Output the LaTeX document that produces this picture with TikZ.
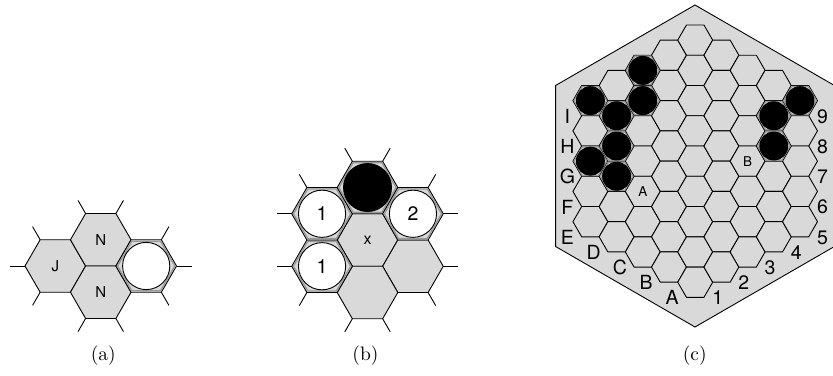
\documentclass[tikz,border=0pt]{standalone}
\usepackage{fontspec}
\newfontfamily\lblfont{TeX Gyre Heros}
\newfontfamily\capfont{lmroman10-regular}[Extension=.otf]
\newcommand{\rsHex}[4][]{%
  \draw[#1] (#2,#3) +(0:#4) -- +(60:#4) -- +(120:#4) -- +(180:#4) -- +(240:#4) -- +(300:#4) -- cycle;}
\begin{document}
\begin{tikzpicture}[x=1pt,y=-1pt,
  hexcell/.style={fill=black!15, draw=black, line width=0.9pt, line join=miter},
  stoneband/.style={draw=black!40, line width=1.3pt},
  stub/.style={draw=black, line width=0.9pt},
  whitestone/.style={fill=white, draw=black, line width=0.9pt},
  blackstone/.style={fill=black, draw=black, line width=0.9pt},
  board/.style={fill=black!15, draw=black, line width=0.9pt},
  celllbl/.style={font=\lblfont\fontsize{15}{17}\selectfont, inner sep=0pt},
  smalllbl/.style={font=\lblfont\fontsize{13.5}{15}\selectfont, inner sep=0pt},
  xlbl/.style={font=\lblfont\fontsize{16}{18}\selectfont, inner sep=0pt},
  biglbl/.style={font=\lblfont\fontsize{19.5}{22}\selectfont, inner sep=0pt},
  caplbl/.style={font=\capfont\fontsize{19.5}{23}\selectfont, inner sep=0pt}
]
\useasboundingbox (0,0) rectangle (833,375);

% ---------------- (a) ----------------
\rsHex[hexcell]{55.3}{266}{30.3}
\rsHex[hexcell]{100.75}{239.76}{30.3}
\rsHex[hexcell]{100.75}{292.24}{30.3}
\rsHex[hexcell]{146.2}{266}{30.3}
\rsHex[stoneband]{146.2}{266}{28.6}
\coordinate (aJ) at (55.3,266);
\coordinate (aNu) at (100.75,239.76);
\coordinate (aNl) at (100.75,292.24);
\coordinate (aS) at (146.2,266);
\foreach \a in {120,180,240}{\draw[stub] (aJ) +(\a:30.3) -- +(\a:45.45);}
\foreach \a in {240,300}{\draw[stub] (aNu) +(\a:30.3) -- +(\a:45.45);}
\foreach \a in {60,120}{\draw[stub] (aNl) +(\a:30.3) -- +(\a:45.45);}
\foreach \a in {0,60,300}{\draw[stub] (aS) +(\a:30.3) -- +(\a:45.45);}
\draw[whitestone] (aS) circle[radius=23.6];
\node[celllbl] (lJ) at (aJ) {J};
\node[celllbl] (lNu) at (aNu) {N};
\node[celllbl] (lNl) at (aNl) {N};
\node[caplbl] (capa) at (103.3,355.5) {(a)};

% ---------------- (b) ----------------
\coordinate (bX) at (367.5,240);
\rsHex[hexcell]{367.5}{240}{30.3}
\foreach \d in {30,90,...,330}{
  \path (bX) ++(\d:52.48) coordinate (bR\d);
}
\foreach \d in {30,90,...,330}{
  \draw[hexcell] (bR\d) +(0:30.3) -- +(60:30.3) -- +(120:30.3) -- +(180:30.3) -- +(240:30.3) -- +(300:30.3) -- cycle;
}
\foreach \d in {150,210,270,330}{
  \draw[stoneband] (bR\d) +(0:28.6) -- +(60:28.6) -- +(120:28.6) -- +(180:28.6) -- +(240:28.6) -- +(300:28.6) -- cycle;
}
\foreach \d in {30,90,...,330}{
  \pgfmathsetmacro\aa{\d-30}
  \pgfmathsetmacro\ab{\d+30}
  \draw[stub] (bR\d) +(\aa:30.3) -- +(\aa:45.45);
  \draw[stub] (bR\d) +(\ab:30.3) -- +(\ab:45.45);
}
\draw[blackstone] (bR270) circle[radius=24];
\draw[whitestone] (bR210) circle[radius=23.6];
\draw[whitestone] (bR330) circle[radius=23.6];
\draw[whitestone] (bR150) circle[radius=23.6];
\node[biglbl] (b1u) at (bR210) {1};
\node[biglbl] (b2) at (bR330) {2};
\node[biglbl] (b1l) at (bR150) {1};
\node[xlbl] (bx) at (bX) {x};
\node[caplbl] (capb) at (365.5,355.8) {(b)};

% ---------------- (c) ----------------
\coordinate (cC) at (695,166);
\draw[board] (cC) +(30:161) -- +(90:161) -- +(150:161) -- +(210:161) -- +(270:161) -- +(330:161) -- cycle;
\foreach \q in {-4,...,4}{
  \pgfmathtruncatemacro\rmin{max(-4,-4-\q)}
  \pgfmathtruncatemacro\rmax{min(4,4-\q)}
  \foreach \r in {\rmin,...,\rmax}{
    \pgfmathsetmacro\cx{695.2+26.2*\q}
    \pgfmathsetmacro\cy{161.15+30.26*(\r+0.5*\q)}
    \rsHex[hexcell]{\cx}{\cy}{17.47}
  }
}
\foreach \q/\r in {-2/-2,-4/0,-2/-1,-3/0,-3/1,-4/2,-3/2,4/-4,3/-3,3/-2}{
  \pgfmathsetmacro\cx{695.2+26.2*\q}
  \pgfmathsetmacro\cy{161.15+30.26*(\r+0.5*\q)}
  \rsHex[stoneband]{\cx}{\cy}{16.3}
  \draw[blackstone] (\cx,\cy) circle[radius=14];
}
\foreach \q/\r/\t in {0/4/A,-1/4/B,-2/4/C,-3/4/D,-4/4/E,-4/3/F,-4/2/G,-4/1/H,-4/0/I}{
  \pgfmathsetmacro\cx{695.2+26.2*\q-23}
  \pgfmathsetmacro\cy{161.15+30.26*(\r+0.5*\q)+15.5}
  \node[biglbl] (L\t) at (\cx,\cy) {\t};
}
\foreach \q/\r/\t in {0/4/1,1/3/2,2/2/3,3/1/4,4/0/5,4/-1/6,4/-2/7,4/-3/8,4/-4/9}{
  \pgfmathsetmacro\cx{695.2+26.2*\q+22.5}
  \pgfmathsetmacro\cy{161.15+30.26*(\r+0.5*\q)+15.8}
  \node[biglbl] (N\t) at (\cx,\cy) {\t};
}
\node[smalllbl] (cA) at (642.8,191.4) {A};
\node[smalllbl] (cB) at (747.6,161.15) {B};
\node[caplbl] (capc) at (694.7,355.8) {(c)};
\end{tikzpicture}
\end{document}
